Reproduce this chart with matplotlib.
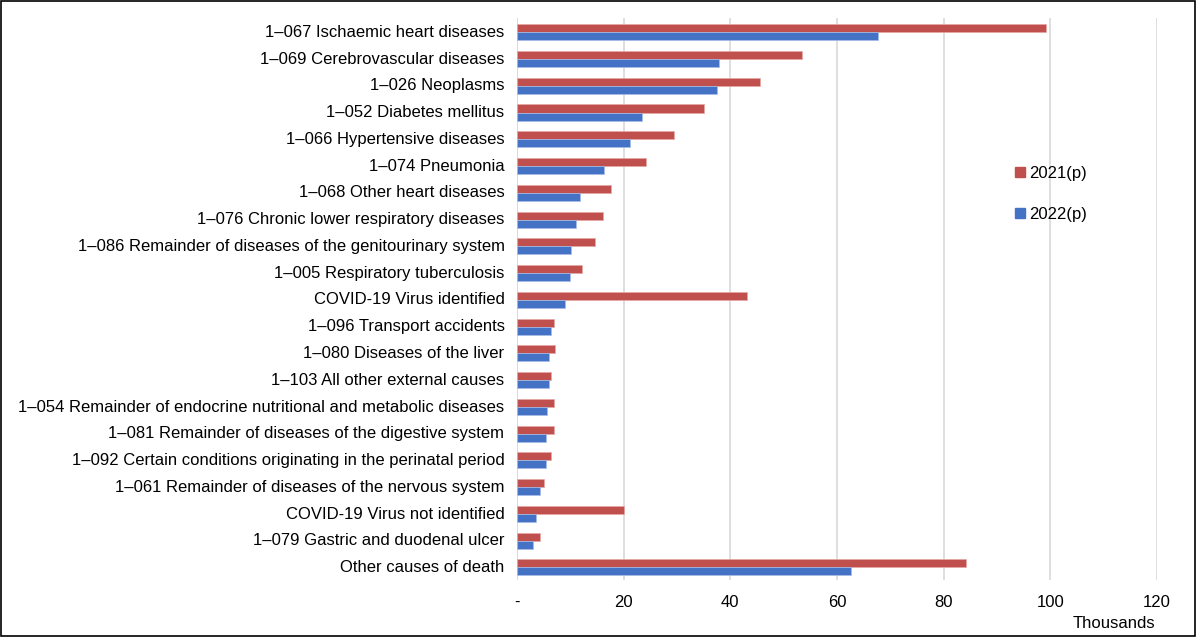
import matplotlib
matplotlib.use("Agg")
import matplotlib.pyplot as plt
from matplotlib.patches import Rectangle
from matplotlib.lines import Line2D
import numpy as np

plt.rcParams['font.family'] = ['Liberation Sans', 'DejaVu Sans']

categories = [
    "1\u2013067 Ischaemic heart diseases",
    "1\u2013069 Cerebrovascular diseases",
    "1\u2013026 Neoplasms",
    "1\u2013052 Diabetes mellitus",
    "1\u2013066 Hypertensive diseases",
    "1\u2013074 Pneumonia",
    "1\u2013068 Other heart diseases",
    "1\u2013076 Chronic lower respiratory diseases",
    "1\u2013086 Remainder of diseases of the genitourinary system",
    "1\u2013005 Respiratory tuberculosis",
    "COVID-19 Virus identified",
    "1\u2013096 Transport accidents",
    "1\u2013080 Diseases of the liver",
    "1\u2013103 All other external causes",
    "1\u2013054 Remainder of endocrine nutritional and metabolic diseases",
    "1\u2013081 Remainder of diseases of the digestive system",
    "1\u2013092 Certain conditions originating in the perinatal period",
    "1\u2013061 Remainder of diseases of the nervous system",
    "COVID-19 Virus not identified",
    "1\u2013079 Gastric and duodenal ulcer",
    "Other causes of death",
]
values_2021 = [99.1, 53.5, 45.5, 35.1, 29.4, 24.1, 17.6, 16.1, 14.7, 12.2, 43.2,
               6.9, 7.2, 6.3, 6.9, 6.9, 6.3, 5.1, 20.0, 4.3, 84.2]
values_2022 = [67.6, 37.8, 37.5, 23.5, 21.2, 16.4, 11.9, 11.1, 10.2, 9.9, 9.0,
               6.3, 6.0, 6.0, 5.7, 5.4, 5.4, 4.3, 3.6, 3.0, 62.7]
xticks = [0, 20, 40, 60, 80, 100, 120]
xticklabels = ["-", "20", "40", "60", "80", "100", "120"]
series_names = ["2021(p)", "2022(p)"]

red = "#C0504D"
blue = "#4472C4"
fs = 12

W, H = 1197, 637
fig = plt.figure(figsize=(W / 100, H / 100), dpi=100)
ax = fig.add_axes([517 / W, 1 - 579.5 / H, (1157 - 517) / W, (579.5 - 17.5) / H])

y = np.arange(len(categories))
bh = 0.3
ax.barh(y - bh / 2 + 0.05, values_2021, height=bh, color=red, edgecolor="#E8A8A6", linewidth=0.5, zorder=3)
ax.barh(y + bh / 2 + 0.05, values_2022, height=bh, color=blue, edgecolor="#A8BCE6", linewidth=0.5, zorder=3)

ax.set_ylim(len(categories) - 0.5, -0.5)
ax.set_xlim(0, 120)
ax.set_yticks(y)
ax.set_yticklabels(categories, fontsize=fs, color="#000000")
ax.set_xticks(xticks)
ax.set_xticklabels(xticklabels, fontsize=fs)
ax.tick_params(axis='y', length=0, pad=9)
ax.tick_params(axis='x', length=0, pad=11)
ax.grid(axis='x', color="#D9D9D9", linewidth=1.2, zorder=0)
for s in ax.spines.values():
    s.set_visible(False)
ax.axvline(0, color="#D9D9D9", linewidth=1.2, zorder=1)

fig.text(1155 / W, 1 - 623 / H, "Thousands", ha='right', va='center', fontsize=fs)

handles = [Line2D([0], [0], marker='s', linestyle='none', markersize=7, color=red),
           Line2D([0], [0], marker='s', linestyle='none', markersize=7, color=blue)]
fig.legend(handles, series_names, loc='center left', bbox_to_anchor=(997 / W, 1 - 194 / H),
           frameon=False, fontsize=fs, labelspacing=1.55, handletextpad=0.0, handlelength=1.0)

fig.patches.append(Rectangle((0.001, 0.002), 0.997, 0.996, transform=fig.transFigure,
                             fill=False, edgecolor="#000000", linewidth=1.2))

fig.savefig("out.png", dpi=100, facecolor="white")
